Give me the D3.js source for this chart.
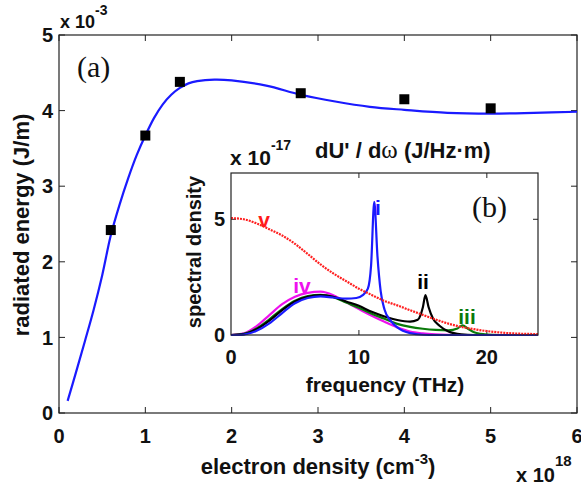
<!DOCTYPE html>
<html>
<head>
<meta charset="utf-8">
<script src="https://cdn.jsdelivr.net/npm/d3@7"></script>
<style>
  body { margin: 0; background: #fff; }
  svg text { font-family: 'Liberation Sans', Arial, sans-serif; font-weight: bold; fill: #111; }
  .serif { font-family: 'Liberation Serif', 'Times New Roman', serif !important; font-weight: normal !important; }
</style>
</head>
<body>
<div id="chart"></div>
<script>
// main panel (a): radiated energy vs electron density
const densityCurve = [0.1, 0.2, 0.3, 0.4, 0.5, 0.6, 0.7, 0.8, 0.9, 1.0, 1.1, 1.2, 1.3, 1.4, 1.5, 1.6, 1.8, 2.0, 2.4, 2.8, 3.2, 3.6, 4.0, 4.5, 5.0, 5.5, 6.0];
const energyCurve = [0.16, 0.55, 0.95, 1.36, 1.82, 2.35, 2.75, 3.1, 3.41, 3.67, 3.9, 4.08, 4.21, 4.3, 4.36, 4.39, 4.41, 4.40, 4.33, 4.21, 4.12, 4.05, 4.01, 3.97, 3.96, 3.97, 3.985];
const densityPts = [0.6, 1.0, 1.4, 2.8, 4.0, 5.0];
const energyPts = [2.42, 3.67, 4.38, 4.23, 4.15, 4.03];
const mainXTicks = [0, 1, 2, 3, 4, 5, 6];
const mainYTicks = [0, 1, 2, 3, 4, 5];

// inset (b): spectral density vs frequency
const freqRed = [0, 1, 2, 3, 4, 5, 6, 7, 8, 9, 10, 11, 12, 13, 14, 15, 16, 17, 18, 19, 20, 21, 22, 23, 24];
const specV = [5.05, 5.0, 4.82, 4.57, 4.3, 3.94, 3.5, 3.05, 2.66, 2.33, 2.0, 1.73, 1.47, 1.28, 1.07, 0.87, 0.67, 0.49, 0.35, 0.25, 0.17, 0.11, 0.07, 0.05, 0.04];
const freqI = [0, 0.5, 1, 2, 3, 4, 5, 6, 7, 8, 9, 9.8, 10.3, 10.7, 10.95, 11.2, 11.45, 11.7, 12, 12.5, 13, 14, 15, 16, 24];
const specI = [0, 0, 0.02, 0.18, 0.5, 0.95, 1.37, 1.6, 1.67, 1.62, 1.57, 1.6, 1.72, 2.0, 3.0, 5.75, 3.4, 1.9, 1.1, 0.6, 0.33, 0.08, 0.01, 0, 0];
const freqII = [0, 1, 2, 3, 4, 5, 6, 7, 8, 9, 10, 11, 12, 13, 14, 14.6, 15.0, 15.2, 15.45, 15.8, 16.3, 17, 18, 19, 24];
const specII = [0, 0.04, 0.25, 0.62, 1.08, 1.45, 1.65, 1.72, 1.65, 1.45, 1.26, 1.0, 0.8, 0.65, 0.58, 0.66, 1.2, 1.72, 1.2, 0.7, 0.4, 0.15, 0.03, 0, 0];
const freqIII = [0, 1, 2, 3, 4, 5, 6, 7, 8, 9, 10, 11, 12, 13, 14, 15, 16, 17, 17.7, 18.1, 18.5, 19, 19.5, 20, 21, 24];
const specIII = [0, 0.05, 0.28, 0.68, 1.12, 1.48, 1.68, 1.73, 1.63, 1.4, 1.18, 0.92, 0.7, 0.48, 0.35, 0.27, 0.22, 0.2, 0.28, 0.42, 0.28, 0.12, 0.05, 0.02, 0, 0];
const freqIV = [0, 1, 2, 3, 4, 5, 6, 7, 8, 9, 10, 11, 12, 13, 14, 15, 16, 17, 18, 24];
const specIV = [0, 0.07, 0.38, 0.86, 1.33, 1.65, 1.82, 1.87, 1.72, 1.42, 1.12, 0.83, 0.57, 0.33, 0.15, 0.07, 0.03, 0.01, 0, 0];
const insetXTicks = [0, 10, 20];
const insetYTicks = [0, 5];

const svg = d3.select('#chart').append('svg').attr('width', 581).attr('height', 486);

// superscripted label helper (x 10^n etc.)
const supText = (parent, px, py, size, base, sup, supSize, rise) => {
  const t = parent.append('text').attr('x', px).attr('y', py).attr('font-size', size);
  t.append('tspan').text(base);
  t.append('tspan').attr('font-size', supSize).attr('dy', -rise).text(sup);
  return t;
};

// ---------- main axes ----------
const x = d3.scaleLinear().domain([0, 6]).range([59, 577]);
const y = d3.scaleLinear().domain([0, 5]).range([413, 35]);

const main = svg.append('g');
const tick = 6;
mainXTicks.forEach(d => {
  main.append('line').attr('x1', x(d)).attr('x2', x(d)).attr('y1', y(0)).attr('y2', y(0) - tick).attr('stroke', '#222');
  main.append('line').attr('x1', x(d)).attr('x2', x(d)).attr('y1', y(5)).attr('y2', y(5) + tick).attr('stroke', '#222');
  main.append('text').attr('x', x(d)).attr('y', 443).attr('text-anchor', 'middle').attr('font-size', 20).text(d);
});
mainYTicks.forEach(d => {
  main.append('line').attr('x1', x(0)).attr('x2', x(0) + tick).attr('y1', y(d)).attr('y2', y(d)).attr('stroke', '#222');
  main.append('line').attr('x1', x(6)).attr('x2', x(6) - tick).attr('y1', y(d)).attr('y2', y(d)).attr('stroke', '#222');
  main.append('text').attr('x', 53).attr('y', y(d)).attr('dy', '0.36em').attr('text-anchor', 'end').attr('font-size', 20).text(d);
});
main.append('rect').attr('x', x(0)).attr('y', y(5)).attr('width', x(6) - x(0)).attr('height', y(0) - y(5))
  .attr('fill', 'none').attr('stroke', '#222').attr('stroke-width', 1.2);

const mainLine = d3.line().x((d, i) => x(densityCurve[i])).y(d => y(d)).curve(d3.curveCatmullRom.alpha(0.5));
main.append('path').attr('d', mainLine(energyCurve)).attr('fill', 'none').attr('stroke', '#1a1aff').attr('stroke-width', 2.2);

main.selectAll('.sq').data(energyPts).enter().append('rect')
  .attr('x', (d, i) => x(densityPts[i]) - 5).attr('y', d => y(d) - 5)
  .attr('width', 10).attr('height', 10).attr('fill', '#000');

// labels
supText(main, 60, 28, 18, 'x 10', '-3', 14, 13);
supText(main, 516, 482, 20, 'x 10', '18', 15, 16);
const xl = main.append('text').attr('x', 318).attr('y', 474).attr('text-anchor', 'middle').attr('font-size', 22);
xl.append('tspan').text('electron density (cm');
xl.append('tspan').attr('font-size', 15).attr('dy', -10).text('-3');
xl.append('tspan').attr('dy', 10).text(')');
main.append('text').attr('transform', 'translate(29,225) rotate(-90)').attr('text-anchor', 'middle').attr('font-size', 22)
  .text('radiated energy (J/m)');
main.append('text').attr('class', 'serif').attr('x', 77).attr('y', 77).attr('font-size', 30).text('(a)');

// ---------- inset ----------
const ix = d3.scaleLinear().domain([0, 24]).range([231, 538]);
const iy = d3.scaleLinear().domain([0, 7]).range([335, 173]);
const inset = svg.append('g');
inset.append('rect').attr('x', ix(0)).attr('y', iy(7)).attr('width', ix(24) - ix(0)).attr('height', iy(0) - iy(7)).attr('fill', '#fff');

const itick = 5;
insetXTicks.forEach(d => {
  if (d > 0) {
    inset.append('line').attr('x1', ix(d)).attr('x2', ix(d)).attr('y1', iy(0)).attr('y2', iy(0) - itick).attr('stroke', '#222');
    inset.append('line').attr('x1', ix(d)).attr('x2', ix(d)).attr('y1', iy(7)).attr('y2', iy(7) + itick).attr('stroke', '#222');
  }
  inset.append('text').attr('x', ix(d)).attr('y', 364).attr('text-anchor', 'middle').attr('font-size', 20).text(d);
});
insetYTicks.forEach(d => {
  if (d > 0) {
    inset.append('line').attr('x1', ix(0)).attr('x2', ix(0) + itick).attr('y1', iy(d)).attr('y2', iy(d)).attr('stroke', '#222');
    inset.append('line').attr('x1', ix(24)).attr('x2', ix(24) - itick).attr('y1', iy(d)).attr('y2', iy(d)).attr('stroke', '#222');
  }
  inset.append('text').attr('x', 225).attr('y', iy(d)).attr('dy', '0.36em').attr('text-anchor', 'end').attr('font-size', 20).text(d);
});

const iline = (xs) => d3.line().x((d, i) => ix(xs[i])).y(d => iy(d)).curve(d3.curveMonotoneX);
const series = [
  { xs: freqIV, ys: specIV, color: '#ee11ee' },
  { xs: freqIII, ys: specIII, color: '#0a7a0a' },
  { xs: freqII, ys: specII, color: '#000' },
  { xs: freqI, ys: specI, color: '#1a1aff' },
];
series.forEach(s => {
  inset.append('path').attr('d', iline(s.xs)(s.ys)).attr('fill', 'none').attr('stroke', s.color).attr('stroke-width', 2.2);
});
inset.append('path').attr('d', iline(freqRed)(specV)).attr('fill', 'none').attr('stroke', '#ff2020')
  .attr('stroke-width', 2.2).attr('stroke-dasharray', '2,1');

inset.append('rect').attr('x', ix(0)).attr('y', iy(7)).attr('width', ix(24) - ix(0)).attr('height', iy(0) - iy(7))
  .attr('fill', 'none').attr('stroke', '#222').attr('stroke-width', 1.2);

// series labels
const labels = [
  { t: 'v', x: 264, y: 227, c: '#ff1a1a' },
  { t: 'i', x: 378, y: 215, c: '#1a1aff' },
  { t: 'ii', x: 423, y: 289, c: '#000' },
  { t: 'iii', x: 467, y: 324, c: '#0a7a0a' },
  { t: 'iv', x: 302, y: 293, c: '#ee11ee' },
];
labels.forEach(l => {
  inset.append('text').attr('x', l.x).attr('y', l.y).attr('text-anchor', 'middle').attr('font-size', 21)
    .style('fill', l.c).text(l.t);
});

supText(inset, 230, 165, 21, 'x 10', '-17', 14, 15);
const tt = inset.append('text').attr('x', 315).attr('y', 158).attr('font-size', 22);
tt.append('tspan').text("dU' / d");
tt.append('tspan').attr('class', 'serif').style('font-size', '25px').text('ω');
tt.append('tspan').text(' (J/Hz·m)');
inset.append('text').attr('x', 385).attr('y', 392).attr('text-anchor', 'middle').attr('font-size', 21).text('frequency (THz)');
inset.append('text').attr('transform', 'translate(201,252) rotate(-90)').attr('text-anchor', 'middle').attr('font-size', 20)
  .text('spectral density');
inset.append('text').attr('class', 'serif').attr('x', 472).attr('y', 217).attr('font-size', 30).text('(b)');
</script>
</body>
</html>
